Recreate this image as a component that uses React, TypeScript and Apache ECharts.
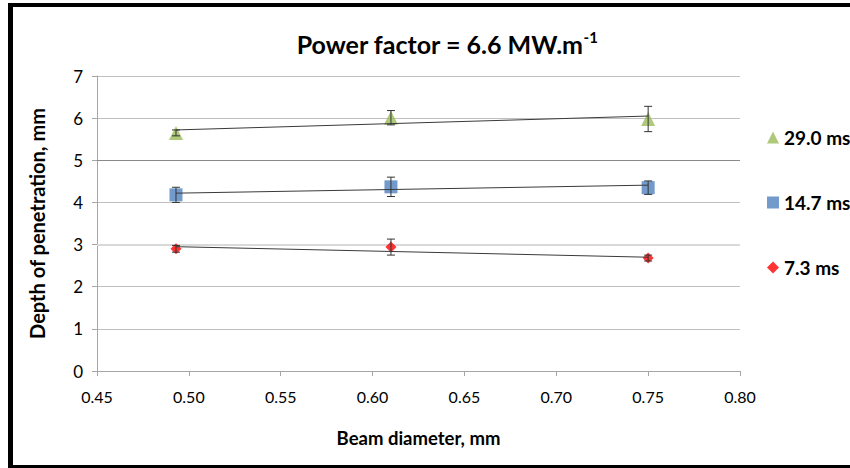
import React, { useEffect, useRef } from "react";
import * as echarts from "echarts";

const beamDiameters = [0.493, 0.61, 0.75];
const seriesNames = ["29.0 ms", "14.7 ms", "7.3 ms"];
const depth29 = [5.65, 6.01, 5.98];
const err29 = [0.07, 0.17, 0.3];
const depth147 = [4.18, 4.37, 4.35];
const err147 = [0.18, 0.23, 0.16];
const depth73 = [2.9, 2.94, 2.68];
const err73 = [0.08, 0.19, 0.07];
// trend line end points
const trendX = [0.493, 0.75];
const trend29 = [5.72, 6.05];
const trend147 = [4.22, 4.41];
const trend73 = [2.95, 2.7];
const colors = ["#9BBB59", "#4F81BD", "#FF0000"];
const symbols = ["triangle", "rect", "diamond"];
const symbolSizes = [14, 13, 11];

const FONT = "Lato";

export default function App() {
  const ref = useRef<HTMLDivElement>(null);
  useEffect(() => {
    if (!ref.current) return;
    const chart = echarts.init(ref.current, null, { renderer: "svg" });
    const values = [depth29, depth147, depth73];
    const errs = [err29, err147, err73];
    const trends = [trend29, trend147, trend73];

    const series: any[] = [];
    values.forEach((vals, i) => {
      series.push({
        name: seriesNames[i],
        type: "scatter",
        symbol: symbols[i],
        symbolSize: symbolSizes[i],
        itemStyle: { color: colors[i] },
        data: beamDiameters.map((x, j) => [x, vals[j]]),
        z: 3,
        ...(i === 0
          ? {
              markLine: {
                silent: true,
                symbol: "none",
                label: { show: false },
                data: [
                  { yAxis: 5, lineStyle: { color: "#8a8a8a", width: 1, type: "solid" } },
                  { yAxis: 3, lineStyle: { color: "#d9d9d9", width: 2, type: "solid" } },
                ],
                z: 1,
              },
            }
          : {}),
      });
    });
    trends.forEach((t) => {
      series.push({
        type: "line",
        symbol: "none",
        lineStyle: { color: "#3a3a3a", width: 1 },
        data: trendX.map((x, j) => [x, t[j]]),
        z: 4,
        silent: true,
      });
    });
    values.forEach((vals, i) => {
      series.push({
        type: "custom",
        z: 5,
        silent: true,
        data: beamDiameters.map((x, j) => [x, vals[j] - errs[i][j], vals[j] + errs[i][j]]),
        renderItem: (params: any, api: any) => {
          const lo = api.coord([api.value(0), api.value(1)]);
          const hi = api.coord([api.value(0), api.value(2)]);
          const hw = 4;
          const style = { stroke: "#333", lineWidth: 1 };
          return {
            type: "group",
            children: [
              { type: "line", shape: { x1: lo[0], y1: lo[1], x2: hi[0], y2: hi[1] }, style },
              { type: "line", shape: { x1: lo[0] - hw, y1: lo[1], x2: lo[0] + hw, y2: lo[1] }, style },
              { type: "line", shape: { x1: hi[0] - hw, y1: hi[1], x2: hi[0] + hw, y2: hi[1] }, style },
            ],
          };
        },
      });
    });

    chart.setOption({
      animation: false,
      backgroundColor: "#fff",
      title: {
        text: "{t|Power factor = 6.6 MW.m}{s|-1}",
        left: 442,
        textAlign: "center",
        top: 24,
        textStyle: {
          rich: {
            t: { fontFamily: FONT, fontWeight: "bold", fontSize: 25, color: "#000" },
            s: { fontFamily: FONT, fontWeight: "bold", fontSize: 15, color: "#000", verticalAlign: "top", padding: [0, 0, 14, 0] },
          },
        },
      },
      legend: {
        orient: "vertical",
        left: 762,
        top: 123,
        itemWidth: 12,
        itemHeight: 12,
        itemGap: 46,
        textStyle: { fontFamily: FONT, fontWeight: "bold", fontSize: 19, color: "#000" },
        data: seriesNames.map((n, i) => ({ name: n, icon: symbols[i] })),
      },
      grid: { left: 97, right: 110, top: 76, bottom: 97 },
      xAxis: {
        type: "value",
        min: 0.45,
        max: 0.8,
        interval: 0.05,
        name: "Beam diameter, mm",
        nameLocation: "middle",
        nameGap: 57,
        nameTextStyle: { fontFamily: FONT, fontWeight: "bold", fontSize: 18.5, color: "#000" },
        axisLine: { show: true, lineStyle: { color: "#a6a6a6" } },
        axisTick: { show: true, length: 5, lineStyle: { color: "#a6a6a6" } },
        axisLabel: {
          fontFamily: FONT,
          fontSize: 16,
          color: "#000",
          margin: 17,
          formatter: (v: number) => v.toFixed(2),
        },
        splitLine: { show: false },
      },
      yAxis: {
        type: "value",
        min: 0,
        max: 7,
        interval: 1,
        name: "Depth of penetration, mm",
        nameLocation: "middle",
        nameGap: 50,
        nameTextStyle: { fontFamily: FONT, fontWeight: "bold", fontSize: 20, color: "#000" },
        axisLine: { show: true, lineStyle: { color: "#a6a6a6" } },
        axisTick: { show: true, length: 5, lineStyle: { color: "#a6a6a6" } },
        axisLabel: { fontFamily: FONT, fontSize: 17, color: "#000", margin: 14 },
        splitLine: { show: true, lineStyle: { color: "#bfbfbf", width: 1 } },
      },
      graphic: [
        { type: "rect", shape: { x: 8, y: 3, width: 5, height: 465 }, style: { fill: "#000" }, z: 100 },
        { type: "rect", shape: { x: 8, y: 3, width: 842, height: 4 }, style: { fill: "#000" }, z: 100 },
        { type: "rect", shape: { x: 8, y: 465, width: 842, height: 3 }, style: { fill: "#000" }, z: 100 },
      ],
      series,
    });
    return () => chart.dispose();
  }, []);
  return (
    <div
      ref={ref}
      style={{ position: "fixed", left: 0, top: 0, width: 850, height: 468 }}
    />
  );
}
